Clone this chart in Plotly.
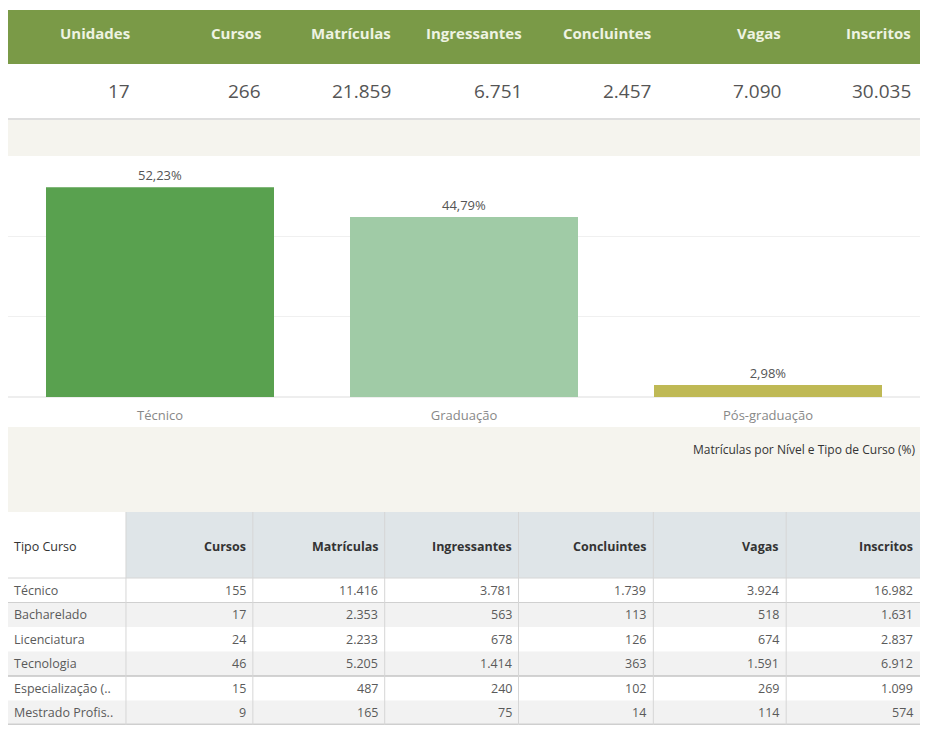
import plotly.graph_objects as go

# ---------------- data ----------------
summary_labels = ["Unidades", "Cursos", "Matrículas", "Ingressantes", "Concluintes", "Vagas", "Inscritos"]
summary_values = [17, 266, 21859, 6751, 2457, 7090, 30035]

levels = ["Técnico", "Graduação", "Pós-graduação"]
level_pct = [52.23, 44.79, 2.98]
level_colors = ["#59a14f", "#a0cba6", "#bfb955"]

table_columns = ["Cursos", "Matrículas", "Ingressantes", "Concluintes", "Vagas", "Inscritos"]
course_types = ["Técnico", "Bacharelado", "Licenciatura", "Tecnologia", "Especialização (..", "Mestrado Profis.."]
cursos = [155, 17, 24, 46, 15, 9]
matriculas = [11416, 2353, 2233, 5205, 487, 165]
ingressantes = [3781, 563, 678, 1414, 240, 75]
concluintes = [1739, 113, 126, 363, 102, 14]
vagas = [3924, 518, 674, 1591, 269, 114]
inscritos = [16982, 1631, 2837, 6912, 1099, 574]

# ---------------- helpers ----------------
# the page body has an 8px margin, so the figure starts at page (8, 8)
OFF = 8
W, H = 912, 717
SPAN_X = 920  # layout span (reference pixels) mapped onto the figure width
FONT = "Open Sans"


def px(x):
    return (x - OFF) / SPAN_X


def py(y):
    return 1 - (y - OFF) / H


def fmt_int(v):
    return f"{v:,}".replace(",", ".")


def fmt_pct(v):
    return f"{v:.2f}".replace(".", ",") + "%"


shapes = []
annotations = []


def rect(x0, y0, x1, y1, color):
    shapes.append(dict(type="rect", xref="paper", yref="paper",
                       x0=px(x0), x1=px(x1), y0=py(y1), y1=py(y0),
                       fillcolor=color, line=dict(width=0), layer="below"))


def hline(x0, x1, y, color, width=1):
    shapes.append(dict(type="line", xref="paper", yref="paper",
                       x0=px(x0), x1=px(x1), y0=py(y), y1=py(y),
                       line=dict(color=color, width=width), layer="above"))


def vline(x, y0, y1, color, width=1):
    shapes.append(dict(type="line", xref="paper", yref="paper",
                       x0=px(x), x1=px(x), y0=py(y0), y1=py(y1),
                       line=dict(color=color, width=width), layer="above"))


def text(x, y, s, size=12, color="#555", anchor="right", bold=False):
    annotations.append(dict(xref="paper", yref="paper", x=px(x), y=py(y),
                            text=f"<b>{s}</b>" if bold else s, showarrow=False,
                            xanchor=anchor, yanchor="middle",
                            font=dict(size=size, color=color, family=FONT)))


# ---------------- summary band ----------------
rect(8, 10, 928, 64, "#7a9a47")
rect(8, 64, 928, 118, "#ffffff")
hline(8, 928, 119, "#dedede", 2)
rect(8, 120, 928, 156, "#f5f4ee")

summary_right = [133, 265, 396, 529, 659, 790, 921]
for lab, val, xr in zip(summary_labels, summary_values, summary_right):
    text(xr, 33, lab, size=15, color="#eef3e2", bold=True)
    text(xr, 91, fmt_int(val), size=19, color="#555555")

# ---------------- bar chart area ----------------
rect(8, 427, 928, 512, "#f5f4ee")
text(926, 449, "Matrículas por Nível e Tipo de Curso (%)", size=12, color="#333333")

fig = go.Figure()
fig.add_trace(go.Bar(
    x=levels, y=level_pct,
    marker=dict(color=level_colors, line=dict(width=0)),
    text=[fmt_pct(v) for v in level_pct],
    textposition="outside",
    textfont=dict(size=13, color="#555555", family=FONT),
    cliponaxis=False,
    hoverinfo="skip",
))

# ---------------- table ----------------
col_edges = [8, 127, 255, 388, 523, 659, 793, 928]
head_top, head_bot = 512, 578
row_h = 24.5

rect(8, head_top, col_edges[1], head_bot, "#ffffff")
rect(col_edges[1], head_top, 928, head_bot, "#dfe5e8")
text(12, 546, "Tipo Curso", size=12.5, color="#333333", anchor="left")
for i, c in enumerate(table_columns):
    text(col_edges[i + 2] - 5, 546, c, size=12.5, color="#333333", bold=True)

columns_data = [cursos, matriculas, ingressantes, concluintes, vagas, inscritos]
for r, name in enumerate(course_types):
    y0 = head_bot + r * row_h
    y1 = y0 + row_h
    rect(8, y0, 928, y1, "#ffffff" if r % 2 == 0 else "#f2f2f2")
    yc = (y0 + y1) / 2
    text(12, yc, name, size=12.5, color="#5a5a5a", anchor="left")
    for i, col in enumerate(columns_data):
        text(col_edges[i + 2] - 5, yc, fmt_int(col[r]), size=12.5, color="#5a5a5a")

table_bottom = head_bot + row_h * len(course_types)
hline(8, 928, head_bot, "#d6d6d6", 1)
hline(8, 928, head_bot + row_h, "#d0d0d0", 1)
hline(8, 928, head_bot + 4 * row_h, "#c4c4c4", 1.5)
hline(8, 928, table_bottom - 0.75, "#cfcfcf", 1.5)
for xe in col_edges[1:-1]:
    vline(xe, head_top, table_bottom, "#d6d6d6", 1)

# ---------------- layout ----------------
fig.update_layout(
    width=W, height=H,
    margin=dict(l=0, r=0, t=0, b=0),
    paper_bgcolor="#ffffff",
    plot_bgcolor="rgba(0,0,0,0)",
    bargap=0.25,
    showlegend=False,
    shapes=shapes,
    annotations=annotations,
    font=dict(family=FONT),
    xaxis=dict(domain=[px(8), px(928)], showgrid=False, zeroline=False,
               showline=False, ticks="", ticklabelstandoff=9,
               tickfont=dict(size=13, color="#888888", family=FONT),
               fixedrange=True),
    yaxis=dict(domain=[py(397), py(156)], range=[0, 60], dtick=20,
               showgrid=True, gridcolor="#f0f0f0", gridwidth=1,
               zeroline=True, zerolinecolor="#eeeeee", showticklabels=False,
               fixedrange=True),
)

fig.write_html("out.html")
